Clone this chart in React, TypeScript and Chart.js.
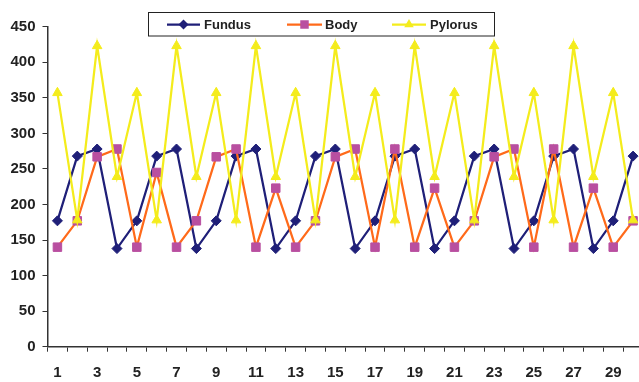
import React, { useEffect, useRef } from 'react';
import { Chart, registerables } from 'chart.js';

Chart.register(...registerables);

const categories = ['1','2','3','4','5','6','7','8','9','10','11','12','13','14','15','16','17','18','19','20','21','22','23','24','25','26','27','28','29','30'];
const fundus = [177,268,278,138,177,268,278,138,177,268,278,138,177,268,278,138,177,268,278,138,177,268,278,138,177,268,278,138,177,268];
const body = [140,177,267,278,140,245,140,177,267,278,140,223,140,177,267,278,140,278,140,223,140,177,267,278,140,278,140,223,140,177];
const pylorus = [357,178,423,239,357,178,423,239,357,178,423,239,357,178,423,239,357,178,423,239,357,178,423,239,357,178,423,239,357,178];
const seriesNames = ['Fundus', 'Body', 'Pylorus'];

const FONT = '"Liberation Sans", Arial, sans-serif';

const legendPlugin = {
  id: 'boxLegend',
  afterDraw(chart: any) {
    const ctx = chart.ctx;
    ctx.save();
    ctx.fillStyle = '#ffffff';
    ctx.fillRect(148.5, 12.5, 346, 23.5);
    ctx.strokeStyle = '#222222';
    ctx.lineWidth = 1;
    ctx.strokeRect(148.5, 12.5, 346, 23.5);
    const cy = 24.5;
    const items = [
      { x0: 167, x1: 200, tx: 204 },
      { x0: 287, x1: 322, tx: 325 },
      { x0: 392, x1: 426, tx: 430 },
    ];
    chart.data.datasets.forEach((ds: any, i: number) => {
      const it = items[i];
      ctx.strokeStyle = ds.borderColor;
      ctx.lineWidth = ds.borderWidth;
      ctx.beginPath();
      ctx.moveTo(it.x0, cy);
      ctx.lineTo(it.x1, cy);
      ctx.stroke();
      const mx = (it.x0 + it.x1) / 2;
      drawMarker(ctx, ds.pointStyle, ds.pointRadius, mx, cy, ds.pointBackgroundColor);
      ctx.fillStyle = '#222222';
      ctx.font = 'bold 13px ' + FONT;
      ctx.textBaseline = 'middle';
      ctx.textAlign = 'left';
      ctx.fillText(ds.label, it.tx, cy + 0.5);
    });
    ctx.restore();
  },
};

function drawMarker(ctx: CanvasRenderingContext2D, style: string, r: number, x: number, y: number, color: string) {
  ctx.fillStyle = color;
  ctx.beginPath();
  if (style === 'rectRot') {
    ctx.moveTo(x, y - r);
    ctx.lineTo(x + r, y);
    ctx.lineTo(x, y + r);
    ctx.lineTo(x - r, y);
  } else if (style === 'rect') {
    const s = r * Math.SQRT1_2;
    ctx.rect(x - s, y - s, 2 * s, 2 * s);
  } else {
    for (let k = 0; k < 3; k++) {
      const a = (k * 2 * Math.PI) / 3;
      const px = x + Math.sin(a) * r;
      const py = y - Math.cos(a) * r;
      if (k === 0) ctx.moveTo(px, py);
      else ctx.lineTo(px, py);
    }
  }
  ctx.closePath();
  ctx.fill();
}

export default function App() {
  const ref = useRef<HTMLCanvasElement | null>(null);
  useEffect(() => {
    if (!ref.current) return;
    const chart = new Chart(ref.current, {
      type: 'line',
      data: {
        labels: categories,
        datasets: [
          {
            label: seriesNames[0],
            data: fundus,
            borderColor: '#1f1f78',
            backgroundColor: '#1f1f78',
            pointBackgroundColor: '#1f1f78',
            pointBorderColor: '#1f1f78',
            pointStyle: 'rectRot',
            pointRadius: 5,
            pointBorderWidth: 1,
            borderWidth: 2.25,
            tension: 0,
            order: 3,
          },
          {
            label: seriesNames[1],
            data: body,
            borderColor: '#ff6a1a',
            backgroundColor: '#b94fa0',
            pointBackgroundColor: '#b94fa0',
            pointBorderColor: '#b94fa0',
            pointStyle: 'rect',
            pointRadius: 6,
            pointBorderWidth: 1,
            borderWidth: 2.25,
            tension: 0,
            order: 2,
          },
          {
            label: seriesNames[2],
            data: pylorus,
            borderColor: '#f4ec1c',
            backgroundColor: '#f4ec1c',
            pointBackgroundColor: '#f4ec1c',
            pointBorderColor: '#f4ec1c',
            pointStyle: 'triangle',
            pointRadius: 5.5,
            pointBorderWidth: 1,
            borderWidth: 2.25,
            tension: 0,
            order: 1,
          },
        ],
      },
      options: {
        animation: false,
        responsive: false,
        maintainAspectRatio: false,
        layout: { padding: { top: 26.7, right: 0, left: 0, bottom: 0 } },
        plugins: {
          legend: { display: false },
          tooltip: { enabled: false },
        },
        scales: {
          x: {
            type: 'category',
            offset: true,
            grid: {
              offset: true,
              drawOnChartArea: false,
              drawTicks: true,
              tickLength: 5,
              color: '#333333',
              lineWidth: 1,
            },
            border: { display: true, color: '#333333', width: 1.5 },
            ticks: {
              autoSkip: false,
              maxRotation: 0,
              padding: 12,
              color: '#222222',
              font: { family: FONT, size: 15, weight: 'bold' },
              callback: (_v: any, i: number) => (i % 2 === 0 ? categories[i] : ''),
            },
            afterFit: (scale: any) => {
              scale.height = 35.3;
            },
          },
          y: {
            min: 0,
            max: 450,
            grid: {
              drawOnChartArea: false,
              drawTicks: true,
              tickLength: 5,
              color: '#333333',
              lineWidth: 1,
            },
            border: { display: true, color: '#333333', width: 1.5 },
            ticks: {
              stepSize: 50,
              padding: 7,
              color: '#222222',
              font: { family: FONT, size: 15, weight: 'bold' },
            },
            afterFit: (scale: any) => {
              scale.width = 47.5;
            },
          },
        },
      },
      plugins: [legendPlugin],
    });
    return () => chart.destroy();
  }, []);

  return (
    <div style={{ position: 'absolute', left: 0, top: 0, width: 639, height: 382, overflow: 'hidden', background: '#fff' }}>
      <canvas ref={ref} width={650} height={382} style={{ display: 'block' }} />
    </div>
  );
}
